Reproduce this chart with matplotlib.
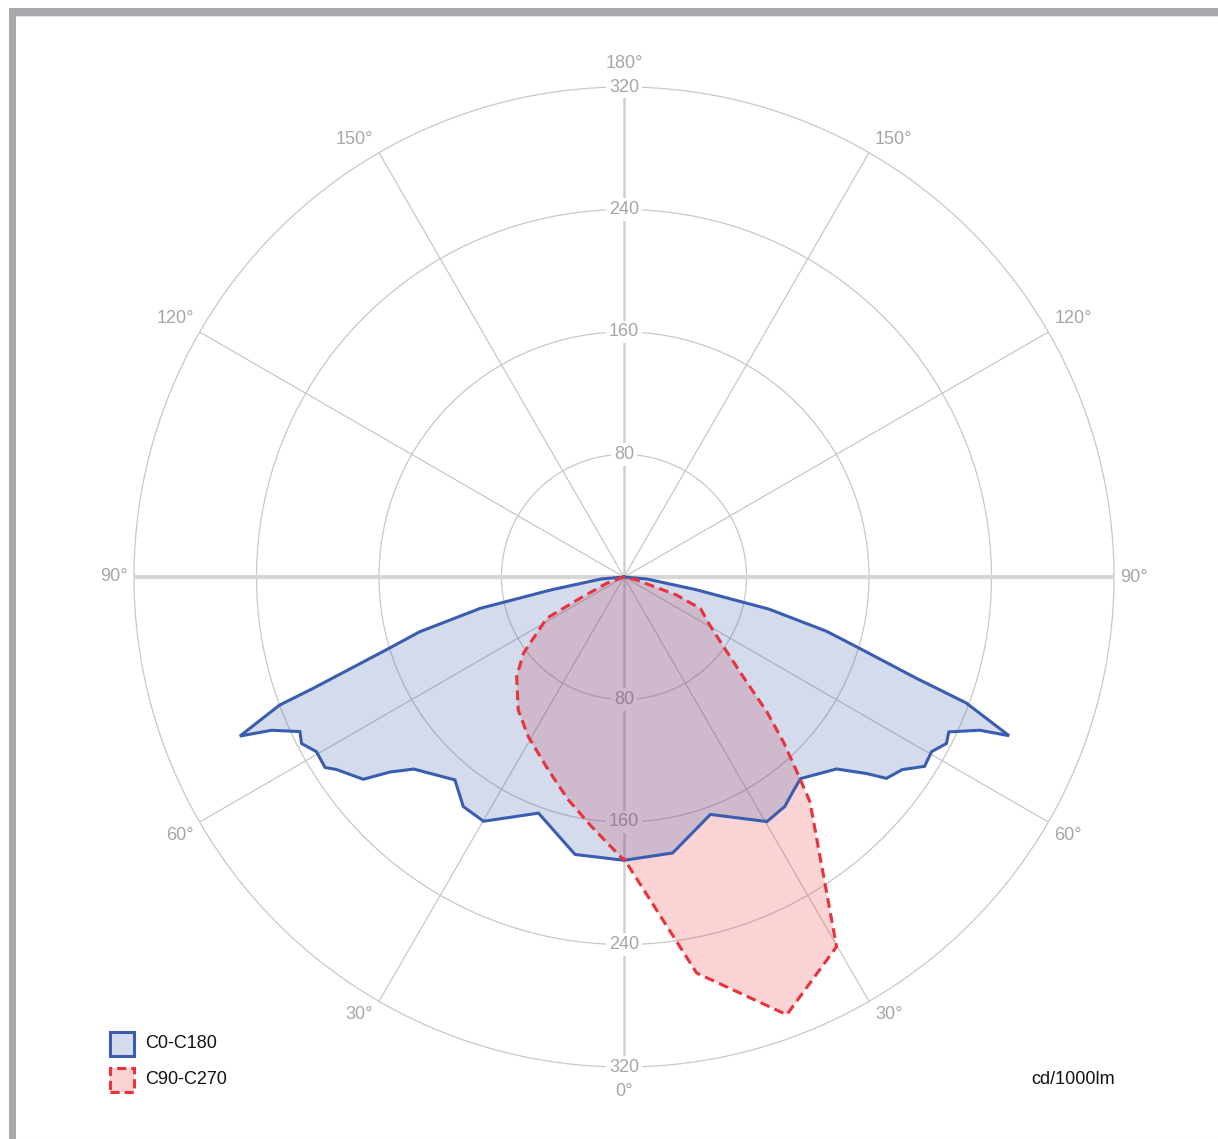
import numpy as np
import matplotlib
matplotlib.use("Agg")
import matplotlib.pyplot as plt
from matplotlib.patches import Rectangle

# luminous intensity (cd/1000lm) against gamma angle (deg), one list per half-plane
c0_gamma = [0, 10, 20, 30.3, 35, 38.5, 41.2, 47.9, 51, 52.5, 55.3, 57.8, 60.4, 62.7,
            64.5, 66.7, 67.6, 69.8, 70.9, 73, 75, 77.5, 80, 85, 90]
c0_cd = [185, 183, 165, 185, 183, 178, 175, 187, 204, 216, 221, 232, 231, 237,
         235, 253, 272, 238, 202, 163, 137, 97, 48, 15, 0]

c180_gamma = [0, 10, 19.9, 29.9, 35, 39.8, 47.6, 50.2, 52.2, 56.2, 57.5, 60.4, 62.7,
              64.5, 66.5, 67.5, 69.6, 70.3, 73, 75, 77.7, 80, 85, 90]
c180_cd = [185, 184, 164, 184, 183, 172.5, 186, 199, 215.5, 226, 231.5, 231, 237,
           234.5, 251, 271.5, 240, 215.5, 162, 138, 96, 48, 15, 0]

c90_gamma = [0, 10.4, 20.4, 29.9, 39.6, 41.4, 44, 46.7, 49.5, 54, 60.8, 67.6, 71.1, 76.7, 90]
c90_cd = [184, 263, 305, 278.5, 190.5, 172, 150, 128, 105, 83, 64, 54, 36, 8.5, 0]

c270_gamma = [0, 7.4, 14, 21.4, 30.9, 38.5, 47.1, 52.8, 61.9, 64.2, 70, 90]
c270_cd = [185, 164.4, 150.1, 135.4, 121.6, 111, 95.7, 82.5, 57.2, 31.9, 12, 0]

ring_values = [80, 160, 240, 320]
spoke_angles = list(range(0, 360, 30))
series_names = ["C0-C180", "C90-C270"]
unit_label = "cd/1000lm"

BLUE = "#3a5db0"
RED = "#e8323c"
GRID = "#c8c8c8"
LABEL = "#a6a6a6"

W, H = 1218, 1139
plt.rcParams["font.family"] = ["Liberation Sans", "DejaVu Sans"]
plt.rcParams["font.size"] = 13


def plane(left_g, left_cd, right_g, right_cd):
    # left half-plane gets negative angles, so the curve runs -90 -> 0 -> 90
    theta = np.radians(np.concatenate([-np.asarray(left_g)[::-1], np.asarray(right_g)]))
    r = np.concatenate([np.asarray(left_cd)[::-1], np.asarray(right_cd)])
    return theta, r


fig = plt.figure(figsize=(W / 100, H / 100), dpi=100)
fig.patch.set_facecolor("white")

# polar area: centre (624, 577) px, 320 cd ring at 490 px
cx, cy, rad = 624, 577, 490
ax = fig.add_axes([(cx - rad) / W, (H - cy - rad) / H, 2 * rad / W, 2 * rad / H],
                  projection="polar")
ax.set_theta_zero_location("S")
ax.set_theta_direction(1)
ax.set_ylim(0, ring_values[-1])
ax.set_xticks([])
ax.set_yticks([])
ax.grid(False)
ax.spines["polar"].set_visible(False)
ax.patch.set_alpha(0)

# grid rings and spokes
t = np.linspace(0, 2 * np.pi, 721)
for rv in ring_values:
    ax.plot(t, np.full_like(t, rv), color=GRID, lw=0.9, zorder=1, clip_on=False)
rmax = ring_values[-1]
for a in spoke_angles:
    lw, col = 0.9, GRID
    if a in (90, 270):
        lw, col = 3.0, "#d6d6d6"
    elif a in (0, 180):
        lw, col = 1.8, "#d0d0d0"
    ax.plot([np.radians(a)] * 2, [0, rmax], color=col, lw=lw, zorder=1,
            solid_capstyle="butt", clip_on=False)

# ring values up and down the vertical axis
for rv in ring_values:
    for a in (0, 180):
        ax.text(np.radians(a), rv, str(rv), ha="center", va="center", color=LABEL,
                zorder=2, bbox=dict(boxstyle="square,pad=0.15", fc="white", ec="none"))

# gamma angle labels at the end of each spoke
for a in spoke_angles:
    g = min(a, 360 - a)
    s, c = np.sin(np.radians(a)), -np.cos(np.radians(a))  # screen x, y direction
    if g in (0, 180):
        ha, va, off = "center", "center", (0, 24 * np.sign(c))
    else:
        ha = "left" if s > 0 else "right"
        va = "center" if g == 90 else ("bottom" if c > 0 else "top")
        off = (6 * np.sign(s), 0 if g == 90 else 5 * np.sign(c))
    ax.annotate(f"{g}°", (np.radians(a), rmax), xytext=off, textcoords="offset pixels",
                ha=ha, va=va, color=LABEL)

th1, r1 = plane(c180_gamma, c180_cd, c0_gamma, c0_cd)
th2, r2 = plane(c270_gamma, c270_cd, c90_gamma, c90_cd)

ax.fill(th2, r2, color=RED, alpha=0.21, lw=0, zorder=3)
ax.fill(th1, r1, color=BLUE, alpha=0.22, lw=0, zorder=3)
ax.plot(th1, r1, color=BLUE, lw=2.2, zorder=4, solid_joinstyle="miter")
ax.plot(th2, r2, color=RED, lw=2.2, ls=(0, (3.2, 1.8)), zorder=5)

# legend, bottom left
for i, (name, col, ls) in enumerate([(series_names[0], BLUE, "-"),
                                     (series_names[1], RED, (0, (3, 1.6)))]):
    top = 1032 + 36 * i
    fig.add_artist(Rectangle((110 / W, (H - top - 24) / H), 24 / W, 24 / H,
                             transform=fig.transFigure, fc=col, alpha=0.22, ec="none"))
    fig.add_artist(Rectangle((110 / W, (H - top - 24) / H), 24 / W, 24 / H,
                             transform=fig.transFigure, fc="none", ec=col, lw=2.2, ls=ls))
    fig.text(145 / W, (H - top - 12) / H, name, ha="left", va="center", color="#111111")

fig.text(1073 / W, (H - 1080) / H, unit_label, ha="center", va="center", color="#111111")

# panel border
fig.add_artist(Rectangle((9 / W, 0), 1, (H - 16) / H, transform=fig.transFigure,
                         fc="none", ec="#e6e6e6", lw=0.8))
fig.add_artist(Rectangle((9 / W, (H - 16) / H), 1, 8 / H, transform=fig.transFigure,
                         fc="#a8a8ac", ec="none"))
fig.add_artist(Rectangle((9 / W, 0), 7 / W, (H - 8) / H, transform=fig.transFigure,
                         fc="#a8a8ac", ec="none"))

fig.savefig("out.png", dpi=100, facecolor="white")
